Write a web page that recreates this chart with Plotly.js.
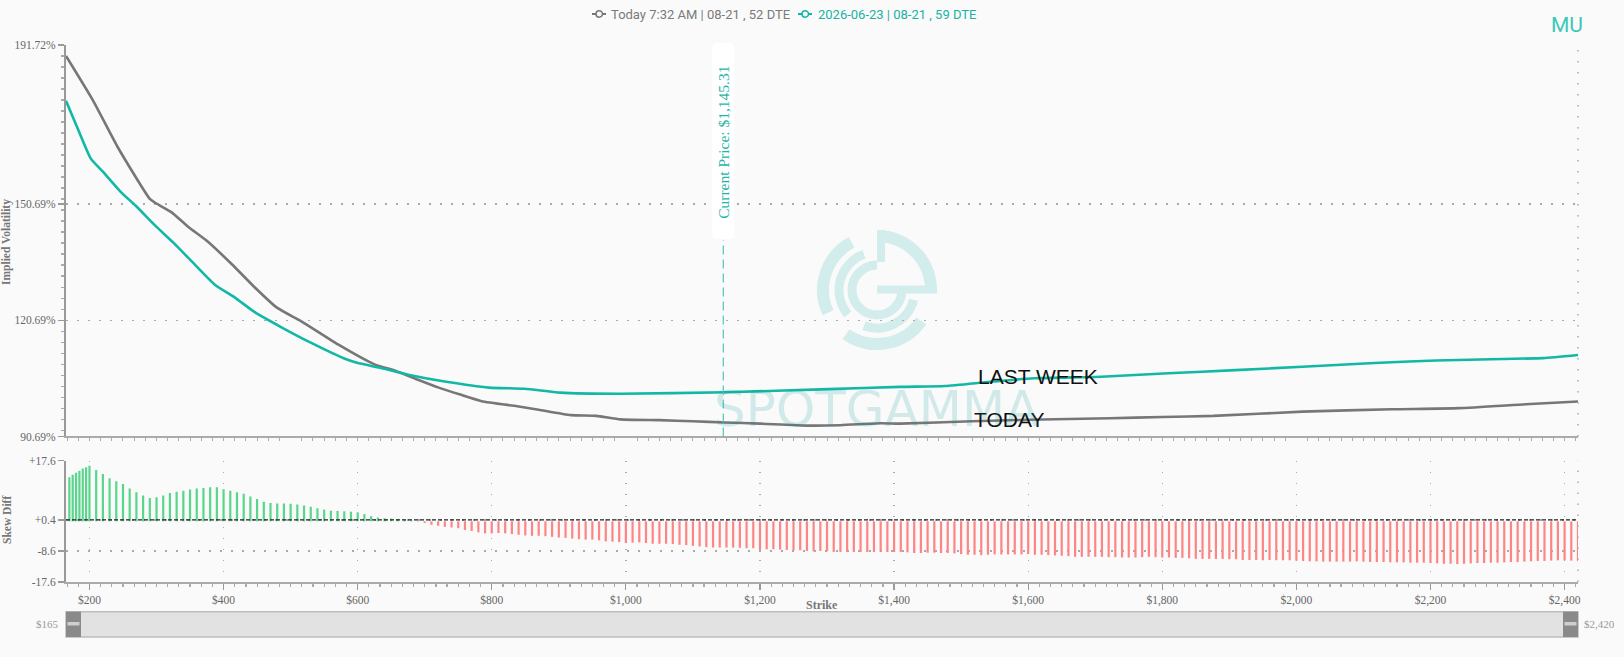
<!DOCTYPE html>
<html>
<head>
<meta charset="utf-8">
<script src="https://cdn.plot.ly/plotly-3.0.1.min.js"></script>
<style>html,body{margin:0;padding:0;background:#fafafa;}#chart{width:1624px;height:657px;}</style>
</head>
<body>
<div id="chart"></div>
<script>
// ---------------- DATA ----------------
const legendToday = 'Today 7:32 AM | 08-21 , 52 DTE';
const legendLastWeek = '2026-06-23 | 08-21 , 59 DTE';
const ticker = 'MU';
const currentPrice = 1145.31;

const todayStrikes = [165,205,242,290,298,322,348,375,412,444,479,519,572,625,657,689,721,753,785,838,870,918,956,992,1050,1100,1148,1200,1271,1320,1380,1409,1516,1600,1722,1800,1876,2009,2142,2242,2342,2420];
const todayIV = [188.9,177.5,165.4,152.0,151.0,148.6,144.7,141.2,135.2,129.6,124.0,120.1,114.3,109.3,107.6,105.4,103.3,101.5,99.8,98.5,97.6,96.2,96.0,95.1,94.9,94.6,94.3,94.0,93.5,93.6,94.1,94.0,94.6,95.0,95.4,95.7,96.0,97.1,97.7,98.0,99.0,99.7];

const lastWeekStrikes = [165,183.5,202,220.7,247.3,268.6,300.5,327,354,386,418,447,487,530,583,599,636,679,732,796,849,902,992,1148,1302,1409,1476,1543,1609,1709,1809,1909,2009,2109,2208,2308,2368,2420];
const lastWeekIV = [177.3,169.7,162.4,158.9,153.7,150.3,144.7,140.4,135.6,130.0,126.4,122.7,118.8,114.9,110.6,109.7,108.3,106.5,104.8,103.3,103.0,102.0,101.7,102.1,102.9,103.5,103.7,104.8,105.7,106.1,107.0,107.8,108.7,109.6,110.3,110.7,110.9,111.7];

const skewStrikes = [
170,175,180,185,190,195,200,
210,220,230,240,250,260,270,280,290,300,310,320,330,340,350,360,370,380,390,400,
410,420,430,440,450,460,470,480,490,500,510,520,530,540,550,560,570,580,590,600,
610,620,630,640,650,660,670,680,690,700,710,720,730,740,750,760,770,780,790,800,
810,820,830,840,850,860,870,880,890,900,910,920,930,940,950,960,970,980,990,1000,
1010,1020,1030,1040,1050,1060,1070,1080,1090,1100,1110,1120,1130,1140,1150,1160,1170,1180,1190,1200,
1210,1220,1230,1240,1250,1260,1270,1280,1290,1300,1310,1320,1330,1340,1350,1360,1370,1380,1390,1400,
1410,1420,1430,1440,1450,1460,1470,1480,1490,1500,1510,1520,1530,1540,1550,1560,1570,1580,1590,1600,
1610,1620,1630,1640,1650,1660,1670,1680,1690,1700,1710,1720,1730,1740,1750,1760,1770,1780,1790,1800,
1810,1820,1830,1840,1850,1860,1870,1880,1890,1900,1910,1920,1930,1940,1950,1960,1970,1980,1990,2000,
2010,2020,2030,2040,2050,2060,2070,2080,2090,2100,2110,2120,2130,2140,2150,2160,2170,2180,2190,2200,
2210,2220,2230,2240,2250,2260,2270,2280,2290,2300,2310,2320,2330,2340,2350,2360,2370,2380,2390,2400,
2410,2420];
const skewDiff = [
12.8,13.5,14.1,14.7,15.3,15.7,16.1,
14.9,13.7,12.5,11.6,10.8,9.5,8.4,7.5,6.8,7.0,7.5,8.2,8.6,8.9,9.2,9.5,9.7,9.9,9.9,9.3,
8.9,8.4,8.0,7.2,6.5,5.7,5.3,5.2,5.2,5.1,4.9,4.6,4.2,3.8,3.4,3.1,3.0,2.9,2.8,2.6,
2.1,1.5,1.1,0.9,0.8,0.7,0.5,0.3,-0.1,-0.5,-1.0,-1.3,-1.6,-1.8,-2.0,-2.5,-2.8,-3.2,-3.5,-3.5,
-3.4,-3.5,-3.7,-3.9,-4.1,-4.2,-4.2,-4.3,-4.5,-4.7,-4.8,-5.0,-5.2,-5.3,-5.3,-5.5,-5.8,-5.9,-6.0,-6.3,
-6.2,-6.1,-6.3,-6.5,-6.5,-6.5,-6.6,-6.8,-6.9,-7.1,-7.3,-7.5,-7.6,-7.6,-7.6,-7.6,-7.7,-7.8,-7.8,-8.1,
-8.1,-8.1,-8.2,-8.3,-8.4,-8.4,-8.6,-8.7,-8.6,-8.7,-8.9,-8.9,-8.9,-8.9,-8.9,-8.9,-8.9,-8.9,-8.9,-8.9,
-8.9,-9.0,-9.2,-9.2,-9.1,-9.1,-9.2,-9.2,-9.3,-9.5,-9.7,-9.7,-9.8,-9.7,-9.6,-9.6,-9.6,-9.6,-9.6,-9.5,
-9.7,-9.7,-9.8,-9.9,-10.0,-10.1,-10.3,-10.3,-10.3,-10.3,-10.3,-10.4,-10.4,-10.5,-10.5,-10.5,-10.4,-10.3,-10.4,-10.5,
-10.5,-10.6,-10.6,-10.7,-10.9,-10.9,-10.9,-10.9,-10.9,-11.0,-11.0,-11.2,-11.2,-11.2,-11.3,-11.2,-11.3,-11.3,-11.3,-11.4,
-11.5,-11.6,-11.6,-11.7,-11.7,-11.7,-11.7,-11.7,-11.6,-11.7,-11.8,-11.8,-11.8,-11.9,-11.9,-11.9,-12.0,-12.0,-12.0,-12.1,
-12.2,-12.3,-12.3,-12.4,-12.3,-12.2,-12.1,-12.1,-12.0,-12.0,-11.9,-11.8,-11.8,-11.7,-11.6,-11.5,-11.5,-11.4,-11.3,-11.3,
-11.4,-11.5];

const ivTickVals = [90.69,120.69,150.69,191.72];
const skewTickVals = [-17.6,-8.6,0.4,17.6];
const skewTickText = ['-17.6','-8.6','+0.4','+17.6'];
const strikeTickVals = [200,400,600,800,1000,1200,1400,1600,1800,2000,2200,2400];
const strikeRange = [165,2420];
const sliderLabels = ['$165','$2,420'];

// ---------------- LAYOUT HELPERS ----------------
const W=1624,H=657,ML=66,MR=46,MT=45,MB=75;
const PW=W-ML-MR, PH=H-MT-MB;
const px = x => (x-ML)/PW;
const py = y => (H-MB-y)/PH;

const GRAY='#777777', TEAL='#12b8a6';
const serif='Liberation Serif';
const sans='Liberation Sans';

// Watermark logo (decorative)
function arc(r,a0,a1){
  const d=Math.PI/180;
  const x0=(r*Math.cos(a0*d)).toFixed(2), y0=(r*Math.sin(a0*d)).toFixed(2);
  const x1=(r*Math.cos(a1*d)).toFixed(2), y1=(r*Math.sin(a1*d)).toFixed(2);
  const large=(a1-a0)>180?1:0;
  return `<path d="M${x0},${y0} A${r},${r} 0 ${large} 1 ${x1},${y1}"/>`;
}
const logoColor='#d3ecec';
const logoSvg = `<svg xmlns="http://www.w3.org/2000/svg" viewBox="-64 -64 128 128" width="256" height="256">`+
 `<g fill="none" stroke="${logoColor}">`+
 `<g stroke-width="12">${arc(54,-90,0)}${arc(54,35,125)}${arc(54,155,242)}</g>`+
 `<g stroke-width="9">${arc(38,140,250)}${arc(38,15,110)}</g>`+
 `<g stroke-width="9">${arc(25,0,270)}</g>`+
 `</g>`+
 `<rect x="0" y="-4.5" width="60" height="8" fill="${logoColor}"/>`+
 `<rect x="0" y="-60" width="8" height="32" fill="${logoColor}"/>`+
 `</svg>`;
const logoUri='data:image/svg+xml;charset=utf-8,'+encodeURIComponent(logoSvg);

// ---------------- TRACES ----------------
const traces = [
  {type:'scatter', mode:'lines', name:legendToday, x:todayStrikes, y:todayIV, xaxis:'x', yaxis:'y',
   line:{color:GRAY, width:2.6, shape:'spline', smoothing:0.5}, hoverinfo:'x+y'},
  {type:'scatter', mode:'lines', name:legendLastWeek, x:lastWeekStrikes, y:lastWeekIV, xaxis:'x', yaxis:'y',
   line:{color:TEAL, width:2.6, shape:'spline', smoothing:0.5}, hoverinfo:'x+y'},
  {type:'bar', name:'Skew Diff', x:skewStrikes, y:skewDiff, xaxis:'x2', yaxis:'y2', width:3.3,
   marker:{color:skewDiff.map(v=>v>=0?'#5ad68c':'#ff8585'), line:{width:0}}}
];

// ---------------- SHAPES ----------------
const dotted='1.5px,9.5px';
const shapes = [
  {type:'line', xref:'paper', x0:0, x1:1, yref:'y2', y0:0.4, y1:0.4, line:{color:'#222', width:1.2, dash:'4px,2px'}},
  {type:'line', xref:'paper', x0:1, x1:1, yref:'paper', y0:py(436.5), y1:1, line:{color:'#aaa', width:1.5, dash:dotted}},
  {type:'line', xref:'paper', x0:1, x1:1, yref:'paper', y0:0, y1:py(460.7), line:{color:'#aaa', width:1.5, dash:dotted}},
  // current price dashed line
  {type:'line', xref:'x', x0:currentPrice, x1:currentPrice, yref:'paper', y0:py(436.5), y1:py(240), line:{color:'#5ccabd', width:1.3, dash:'9px,5px'}},
  // current price label box (rounded)
  {type:'path', layer:'above', xref:'x', xsizemode:'pixel', xanchor:currentPrice, yref:'paper', ysizemode:'pixel', yanchor:1,
   path:'M -6,2 L 6,2 Q 11,2 11,-3 L 11,-189 Q 11,-194 6,-194 L -6,-194 Q -11,-194 -11,-189 L -11,-3 Q -11,2 -6,2 Z',
   fillcolor:'#ffffff', line:{width:0}},
  // range slider look-alike
  {type:'rect', xref:'paper', yref:'paper', x0:px(66), x1:px(1578), y0:py(637), y1:py(611.7), fillcolor:'#e2e2e2', line:{color:'#bdbdbd', width:1.5}},
  {type:'rect', xref:'paper', yref:'paper', x0:px(66), x1:px(81), y0:py(637), y1:py(611.7), fillcolor:'#8a8a8a', line:{width:0}},
  {type:'rect', xref:'paper', yref:'paper', x0:px(1563), x1:px(1578), y0:py(637), y1:py(611.7), fillcolor:'#8a8a8a', line:{width:0}},
  {type:'rect', xref:'paper', yref:'paper', x0:px(67.5), x1:px(79.5), y0:py(625.5), y1:py(622), fillcolor:'#cfcfcf', line:{width:0}},
  {type:'rect', xref:'paper', yref:'paper', x0:px(1564.5), x1:px(1576.5), y0:py(625.5), y1:py(622), fillcolor:'#cfcfcf', line:{width:0}},
  // legend symbols
  {type:'line', xref:'paper', yref:'paper', x0:px(592), x1:px(606), y0:py(14), y1:py(14), line:{color:GRAY, width:2}},
  {type:'circle', xref:'paper', yref:'paper', x0:px(596), x1:px(602.5), y0:py(17.2), y1:py(10.8), fillcolor:'#fafafa', line:{color:GRAY, width:1.5}},
  {type:'line', xref:'paper', yref:'paper', x0:px(798), x1:px(812), y0:py(14), y1:py(14), line:{color:TEAL, width:2}},
  {type:'circle', xref:'paper', yref:'paper', x0:px(802), x1:px(808.5), y0:py(17.2), y1:py(10.8), fillcolor:'#fafafa', line:{color:TEAL, width:1.5}}
];

// ---------------- ANNOTATIONS ----------------
const annotations = [
  {text:'Current Price: $1,145.31', xref:'x', x:currentPrice, yref:'paper', y:py(142.5), xanchor:'center', yanchor:'middle',
   textangle:-90, showarrow:false, font:{family:serif, size:15.5, color:'#1fb5a5'}},
  {text:'LAST WEEK', xref:'x', x:1522, yref:'y', y:106.1, xanchor:'left', yanchor:'middle', showarrow:false,
   font:{family:sans, size:21, color:'#111'}},
  {text:'TODAY', xref:'x', x:1516, yref:'y', y:95.2, xanchor:'left', yanchor:'middle', showarrow:false,
   font:{family:sans, size:21, color:'#111'}},
  {text:'SPOTGAMMA', xref:'paper', x:px(876), yref:'paper', y:py(409), xanchor:'center', yanchor:'middle', showarrow:false,
   font:{family:'DejaVu Sans', size:50, color:'rgba(0,150,150,0.16)'}},
  {text:ticker, xref:'paper', x:px(1567), yref:'paper', y:py(25), xanchor:'center', yanchor:'middle', showarrow:false,
   font:{family:'Roboto', size:21, color:'#3cc7b9'}},
  {text:legendToday, xref:'paper', x:px(608.5), yref:'paper', y:py(14), xanchor:'left', yanchor:'middle', showarrow:false,
   font:{family:'Roboto', size:13, color:'#7a7a7a'}},
  {text:legendLastWeek, xref:'paper', x:px(815.5), yref:'paper', y:py(14), xanchor:'left', yanchor:'middle', showarrow:false,
   font:{family:'Roboto', size:13, color:'#17b3a3'}},
  {text:'<b>Implied Volatility</b>', xref:'paper', x:px(6), yref:'paper', y:py(242), xanchor:'center', yanchor:'middle',
   textangle:-90, showarrow:false, font:{family:serif, size:11.5, color:'#777'}},
  {text:'<b>Skew Diff</b>', xref:'paper', x:px(7), yref:'paper', y:py(520), xanchor:'center', yanchor:'middle',
   textangle:-90, showarrow:false, font:{family:serif, size:11.5, color:'#777'}},
  {text:'<b>Strike</b>', xref:'paper', x:px(822), yref:'paper', y:py(605), xanchor:'center', yanchor:'middle', showarrow:false,
   font:{family:serif, size:12, color:'#777'}},
  {text:sliderLabels[0], xref:'paper', x:px(61), yref:'paper', y:py(624), xanchor:'right', yanchor:'middle', showarrow:false,
   font:{family:serif, size:11, color:'#999'}},
  {text:sliderLabels[1], xref:'paper', x:px(1582), yref:'paper', y:py(624), xanchor:'left', yanchor:'middle', showarrow:false,
   font:{family:serif, size:11, color:'#999'}}
];

const tickFont = {family:serif, size:11.5, color:'#666'};

const layout = {
  width:W, height:H,
  margin:{l:ML, r:MR, t:MT, b:MB, pad:0},
  paper_bgcolor:'#fafafa', plot_bgcolor:'rgba(0,0,0,0)',
  showlegend:false,
  xaxis:{domain:[0,1], anchor:'y', range:strikeRange, showgrid:false, zeroline:false,
    showline:true, linecolor:'#aaa', linewidth:2, ticks:'', showticklabels:false,
    minor:{ticks:'outside', ticklen:3, tickcolor:'#aaa', tick0:0, dtick:200/12, showgrid:false}},
  xaxis2:{domain:[0,1], anchor:'y2', matches:'x', range:strikeRange, tickmode:'array', tickvals:strikeTickVals,
    ticktext:strikeTickVals.map(v=>'$'+v.toLocaleString('en-US')), tickfont:tickFont, ticks:'outside', ticklen:6, tickcolor:'#999', tickwidth:1.2,
    showline:true, linecolor:'#aaa', linewidth:2, zeroline:false,
    showgrid:true, gridcolor:'#aaa', gridwidth:1.3, griddash:dotted,
    minor:{ticks:'outside', ticklen:3, tickcolor:'#aaa', tick0:0, dtick:200/12, showgrid:false}},
  yaxis:{domain:[0.271,1], anchor:'x', range:[90.69,191.72], tickmode:'array', tickvals:ivTickVals,
    ticktext:ivTickVals.map(v=>v.toFixed(2)+'%'), tickfont:tickFont, ticks:'outside', ticklen:6, tickcolor:'#999', tickwidth:1.2,
    showline:true, linecolor:'#999', linewidth:2, zeroline:false,
    showgrid:true, gridcolor:'#aaa', gridwidth:1.3, griddash:dotted,
    minor:{ticks:'outside', ticklen:3, tickcolor:'#aaa', tick0:191.72, dtick:2.84, showgrid:false}},
  yaxis2:{domain:[0,0.226], anchor:'x2', range:[-17.6,17.6], tickmode:'array', tickvals:skewTickVals, ticktext:skewTickText,
    tickfont:tickFont, ticks:'outside', ticklen:6, tickcolor:'#999', tickwidth:1.2,
    showline:true, linecolor:'#999', linewidth:2, zeroline:false,
    showgrid:true, gridcolor:'#aaa', gridwidth:1.3, griddash:dotted},
  shapes:shapes,
  annotations:annotations,
  images:[{source:logoUri, xref:'paper', yref:'paper', x:px(877), y:py(290), sizex:128/PW, sizey:128/PH,
    xanchor:'center', yanchor:'middle', sizing:'stretch', layer:'below', opacity:1}]
};

Plotly.newPlot('chart', traces, layout, {displayModeBar:false, staticPlot:true});
</script>
</body>
</html>
